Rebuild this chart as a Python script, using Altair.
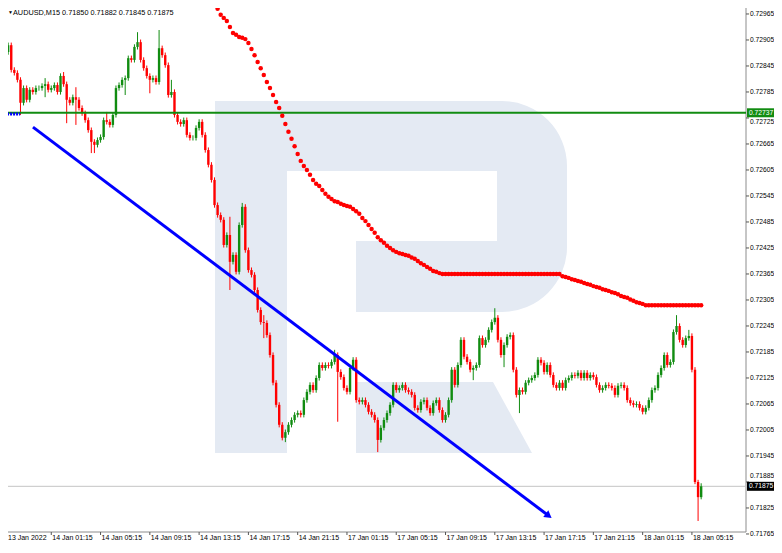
import base64
import altair as alt
import pandas as pd

# ---------------- data ----------------
opens = [
    0.72905, 0.72882, 0.72877, 0.72893, 0.72836, 0.72829, 0.72813, 0.72760, 0.72794, 0.72767,
    0.72790, 0.72785, 0.72794, 0.72794, 0.72799, 0.72803, 0.72790, 0.72794, 0.72801, 0.72785,
    0.72822, 0.72803, 0.72767, 0.72760, 0.72773, 0.72767, 0.72748, 0.72736, 0.72720, 0.72697,
    0.72670, 0.72663, 0.72674, 0.72681, 0.72720, 0.72716, 0.72709, 0.72732, 0.72794, 0.72801,
    0.72813, 0.72817, 0.72863, 0.72859, 0.72889, 0.72900, 0.72859, 0.72840, 0.72822, 0.72813,
    0.72817, 0.72808, 0.72886, 0.72870, 0.72847, 0.72778, 0.72785, 0.72732, 0.72716, 0.72711,
    0.72720, 0.72686, 0.72679, 0.72679, 0.72702, 0.72716, 0.72686, 0.72651, 0.72617, 0.72582,
    0.72524, 0.72501, 0.72490, 0.72432, 0.72455, 0.72393, 0.72409, 0.72370, 0.72478, 0.72520,
    0.72420, 0.72374, 0.72363, 0.72328, 0.72282, 0.72254, 0.72252, 0.72224, 0.72178, 0.72114,
    0.72063, 0.72017, 0.71987, 0.72000, 0.72017, 0.72028, 0.72040, 0.72044, 0.72040, 0.72074,
    0.72093, 0.72109, 0.72097, 0.72125, 0.72155, 0.72148, 0.72155, 0.72153, 0.72162, 0.72178,
    0.72139, 0.72127, 0.72102, 0.72093, 0.72148, 0.72167, 0.72074, 0.72070, 0.72074, 0.72063,
    0.72047, 0.72040, 0.72028, 0.71982, 0.72010, 0.72028, 0.72044, 0.72063, 0.72109, 0.72097,
    0.72102, 0.72109, 0.72097, 0.72093, 0.72086, 0.72056, 0.72051, 0.72070, 0.72074, 0.72056,
    0.72044, 0.72067, 0.72074, 0.72051, 0.72028, 0.72040, 0.72074, 0.72144, 0.72109, 0.72155,
    0.72213, 0.72174, 0.72162, 0.72144, 0.72148, 0.72155, 0.72217, 0.72201, 0.72213, 0.72236,
    0.72254, 0.72264, 0.72213, 0.72178, 0.72201, 0.72220, 0.72224, 0.72144, 0.72086, 0.72097,
    0.72093, 0.72114, 0.72120, 0.72125, 0.72132, 0.72167, 0.72160, 0.72139, 0.72155, 0.72132,
    0.72109, 0.72102, 0.72114, 0.72102, 0.72120, 0.72125, 0.72132, 0.72130, 0.72137, 0.72125,
    0.72137, 0.72125, 0.72132, 0.72127, 0.72109, 0.72097, 0.72102, 0.72109, 0.72107, 0.72102,
    0.72086, 0.72107, 0.72109, 0.72102, 0.72074, 0.72067, 0.72063, 0.72065, 0.72056, 0.72047,
    0.72056, 0.72074, 0.72097, 0.72102, 0.72132, 0.72148, 0.72178, 0.72155, 0.72162, 0.72231,
    0.72245, 0.72213, 0.72201, 0.72217, 0.72222, 0.72144, 0.71885, 0.71850,
]
highs = [
    0.72907, 0.72888, 0.72899, 0.72899, 0.72842, 0.72835, 0.72819, 0.72800, 0.72800, 0.72796,
    0.72796, 0.72800, 0.72800, 0.72805, 0.72817, 0.72809, 0.72800, 0.72807, 0.72807, 0.72828,
    0.72831, 0.72809, 0.72773, 0.72779, 0.72796, 0.72773, 0.72754, 0.72742, 0.72726, 0.72703,
    0.72676, 0.72680, 0.72687, 0.72726, 0.72739, 0.72722, 0.72738, 0.72800, 0.72807, 0.72819,
    0.72823, 0.72869, 0.72869, 0.72895, 0.72923, 0.72906, 0.72865, 0.72846, 0.72828, 0.72823,
    0.72823, 0.72928, 0.72892, 0.72876, 0.72853, 0.72813, 0.72791, 0.72738, 0.72722, 0.72726,
    0.72726, 0.72692, 0.72685, 0.72708, 0.72722, 0.72722, 0.72692, 0.72657, 0.72623, 0.72588,
    0.72530, 0.72507, 0.72496, 0.72461, 0.72497, 0.72415, 0.72415, 0.72484, 0.72529, 0.72526,
    0.72426, 0.72380, 0.72369, 0.72334, 0.72288, 0.72270, 0.72258, 0.72230, 0.72184, 0.72120,
    0.72069, 0.72023, 0.72006, 0.72023, 0.72034, 0.72046, 0.72050, 0.72050, 0.72080, 0.72099,
    0.72115, 0.72115, 0.72131, 0.72161, 0.72161, 0.72161, 0.72161, 0.72168, 0.72190, 0.72184,
    0.72145, 0.72133, 0.72108, 0.72154, 0.72173, 0.72173, 0.72080, 0.72080, 0.72080, 0.72069,
    0.72053, 0.72046, 0.72034, 0.72016, 0.72034, 0.72050, 0.72069, 0.72115, 0.72115, 0.72108,
    0.72115, 0.72115, 0.72103, 0.72099, 0.72092, 0.72062, 0.72076, 0.72080, 0.72080, 0.72062,
    0.72073, 0.72080, 0.72080, 0.72057, 0.72046, 0.72080, 0.72150, 0.72150, 0.72161, 0.72219,
    0.72219, 0.72180, 0.72168, 0.72154, 0.72161, 0.72223, 0.72223, 0.72219, 0.72242, 0.72260,
    0.72286, 0.72270, 0.72219, 0.72207, 0.72226, 0.72230, 0.72230, 0.72150, 0.72103, 0.72103,
    0.72120, 0.72126, 0.72131, 0.72138, 0.72173, 0.72173, 0.72166, 0.72161, 0.72161, 0.72138,
    0.72115, 0.72120, 0.72120, 0.72126, 0.72131, 0.72138, 0.72138, 0.72143, 0.72143, 0.72143,
    0.72143, 0.72138, 0.72138, 0.72133, 0.72115, 0.72108, 0.72115, 0.72115, 0.72113, 0.72108,
    0.72113, 0.72115, 0.72115, 0.72108, 0.72080, 0.72073, 0.72071, 0.72071, 0.72062, 0.72062,
    0.72080, 0.72103, 0.72108, 0.72138, 0.72154, 0.72184, 0.72184, 0.72168, 0.72237, 0.72270,
    0.72251, 0.72219, 0.72223, 0.72236, 0.72228, 0.72150, 0.71890, 0.71882,
]
lows = [
    0.72877, 0.72859, 0.72871, 0.72830, 0.72823, 0.72807, 0.72732, 0.72754, 0.72761, 0.72761,
    0.72779, 0.72779, 0.72788, 0.72788, 0.72773, 0.72784, 0.72784, 0.72788, 0.72779, 0.72779,
    0.72797, 0.72713, 0.72754, 0.72754, 0.72709, 0.72742, 0.72730, 0.72714, 0.72691, 0.72644,
    0.72644, 0.72657, 0.72668, 0.72675, 0.72710, 0.72703, 0.72703, 0.72726, 0.72788, 0.72795,
    0.72778, 0.72811, 0.72853, 0.72853, 0.72883, 0.72853, 0.72834, 0.72816, 0.72782, 0.72807,
    0.72802, 0.72802, 0.72864, 0.72841, 0.72772, 0.72772, 0.72726, 0.72710, 0.72705, 0.72705,
    0.72680, 0.72673, 0.72673, 0.72673, 0.72696, 0.72680, 0.72645, 0.72611, 0.72576, 0.72518,
    0.72495, 0.72484, 0.72426, 0.72426, 0.72328, 0.72387, 0.72364, 0.72364, 0.72472, 0.72414,
    0.72368, 0.72357, 0.72322, 0.72276, 0.72248, 0.72217, 0.72218, 0.72172, 0.72108, 0.72057,
    0.72011, 0.71981, 0.71977, 0.71994, 0.72011, 0.72022, 0.72034, 0.72034, 0.72034, 0.72068,
    0.72087, 0.72091, 0.72091, 0.72119, 0.72142, 0.72142, 0.72147, 0.72147, 0.72156, 0.72024,
    0.72121, 0.72096, 0.72087, 0.72087, 0.72142, 0.72068, 0.72064, 0.72064, 0.72057, 0.72041,
    0.72034, 0.72022, 0.71954, 0.71976, 0.72004, 0.72022, 0.72038, 0.72057, 0.72091, 0.72091,
    0.72096, 0.72091, 0.72087, 0.72080, 0.72050, 0.72045, 0.72045, 0.72064, 0.72050, 0.72038,
    0.72038, 0.72061, 0.72045, 0.72022, 0.72022, 0.72034, 0.72068, 0.72103, 0.72103, 0.72149,
    0.72168, 0.72156, 0.72138, 0.72120, 0.72142, 0.72149, 0.72195, 0.72195, 0.72207, 0.72230,
    0.72248, 0.72207, 0.72172, 0.72150, 0.72195, 0.72214, 0.72138, 0.72080, 0.72044, 0.72087,
    0.72087, 0.72108, 0.72114, 0.72119, 0.72126, 0.72154, 0.72133, 0.72133, 0.72126, 0.72103,
    0.72096, 0.72096, 0.72096, 0.72096, 0.72114, 0.72119, 0.72124, 0.72124, 0.72119, 0.72119,
    0.72119, 0.72119, 0.72121, 0.72103, 0.72091, 0.72091, 0.72096, 0.72101, 0.72096, 0.72080,
    0.72080, 0.72101, 0.72096, 0.72068, 0.72061, 0.72057, 0.72057, 0.72050, 0.72041, 0.72041,
    0.72050, 0.72068, 0.72091, 0.72096, 0.72126, 0.72142, 0.72149, 0.72149, 0.72156, 0.72225,
    0.72207, 0.72195, 0.72195, 0.72211, 0.72138, 0.71880, 0.71795, 0.71845,
]
closes = [
    0.72882, 0.72877, 0.72893, 0.72836, 0.72829, 0.72813, 0.72760, 0.72794, 0.72767, 0.72790,
    0.72785, 0.72794, 0.72794, 0.72799, 0.72803, 0.72790, 0.72794, 0.72801, 0.72785, 0.72822,
    0.72803, 0.72767, 0.72760, 0.72773, 0.72767, 0.72748, 0.72736, 0.72720, 0.72697, 0.72670,
    0.72663, 0.72674, 0.72681, 0.72720, 0.72716, 0.72709, 0.72732, 0.72794, 0.72801, 0.72813,
    0.72817, 0.72863, 0.72859, 0.72889, 0.72900, 0.72859, 0.72840, 0.72822, 0.72813, 0.72817,
    0.72808, 0.72886, 0.72870, 0.72847, 0.72778, 0.72785, 0.72732, 0.72716, 0.72711, 0.72720,
    0.72686, 0.72679, 0.72679, 0.72702, 0.72716, 0.72686, 0.72651, 0.72617, 0.72582, 0.72524,
    0.72501, 0.72490, 0.72432, 0.72455, 0.72393, 0.72409, 0.72370, 0.72478, 0.72520, 0.72420,
    0.72374, 0.72363, 0.72328, 0.72282, 0.72254, 0.72252, 0.72224, 0.72178, 0.72114, 0.72063,
    0.72017, 0.71987, 0.72000, 0.72017, 0.72028, 0.72040, 0.72044, 0.72040, 0.72074, 0.72093,
    0.72109, 0.72097, 0.72125, 0.72155, 0.72148, 0.72155, 0.72153, 0.72162, 0.72178, 0.72139,
    0.72127, 0.72102, 0.72093, 0.72148, 0.72167, 0.72074, 0.72070, 0.72074, 0.72063, 0.72047,
    0.72040, 0.72028, 0.71982, 0.72010, 0.72028, 0.72044, 0.72063, 0.72109, 0.72097, 0.72102,
    0.72109, 0.72097, 0.72093, 0.72086, 0.72056, 0.72051, 0.72070, 0.72074, 0.72056, 0.72044,
    0.72067, 0.72074, 0.72051, 0.72028, 0.72040, 0.72074, 0.72144, 0.72109, 0.72155, 0.72213,
    0.72174, 0.72162, 0.72144, 0.72148, 0.72155, 0.72217, 0.72201, 0.72213, 0.72236, 0.72254,
    0.72264, 0.72213, 0.72178, 0.72201, 0.72220, 0.72224, 0.72144, 0.72086, 0.72097, 0.72093,
    0.72114, 0.72120, 0.72125, 0.72132, 0.72167, 0.72160, 0.72139, 0.72155, 0.72132, 0.72109,
    0.72102, 0.72114, 0.72102, 0.72120, 0.72125, 0.72132, 0.72130, 0.72137, 0.72125, 0.72137,
    0.72125, 0.72132, 0.72127, 0.72109, 0.72097, 0.72102, 0.72109, 0.72107, 0.72102, 0.72086,
    0.72107, 0.72109, 0.72102, 0.72074, 0.72067, 0.72063, 0.72065, 0.72056, 0.72047, 0.72056,
    0.72074, 0.72097, 0.72102, 0.72132, 0.72148, 0.72178, 0.72155, 0.72162, 0.72231, 0.72245,
    0.72213, 0.72201, 0.72217, 0.72222, 0.72144, 0.71885, 0.71850, 0.71875,
]

# red dotted moving average, visible from bar 68 onwards
ma_first_bar = 68
ma_values = [
    0.72993, 0.72986, 0.72977, 0.72963, 0.72956, 0.72949, 0.72935, 0.72921, 0.72917, 0.72912,
    0.72910, 0.72907, 0.72898, 0.72884, 0.72870, 0.72854, 0.72840, 0.72824, 0.72808, 0.72794,
    0.72778, 0.72762, 0.72748, 0.72730, 0.72711, 0.72693, 0.72677, 0.72660, 0.72642, 0.72626,
    0.72614, 0.72605, 0.72594, 0.72582, 0.72573, 0.72568, 0.72559, 0.72550, 0.72543, 0.72538,
    0.72533, 0.72531, 0.72527, 0.72524, 0.72522, 0.72520, 0.72515, 0.72510, 0.72504, 0.72494,
    0.72487, 0.72478, 0.72469, 0.72460, 0.72450, 0.72443, 0.72437, 0.72430, 0.72425, 0.72420,
    0.72416, 0.72413, 0.72411, 0.72409, 0.72407, 0.72403, 0.72400, 0.72395, 0.72390, 0.72386,
    0.72381, 0.72377, 0.72372, 0.72370, 0.72367, 0.72365, 0.72365, 0.72365, 0.72365, 0.72365,
    0.72365, 0.72365, 0.72365, 0.72365, 0.72365, 0.72365, 0.72365, 0.72365, 0.72365, 0.72365,
    0.72365, 0.72365, 0.72365, 0.72365, 0.72365, 0.72365, 0.72365, 0.72365, 0.72365, 0.72365,
    0.72365, 0.72365, 0.72365, 0.72365, 0.72365, 0.72365, 0.72365, 0.72365, 0.72365, 0.72365,
    0.72365, 0.72365, 0.72365, 0.72365, 0.72360, 0.72358, 0.72356, 0.72353, 0.72351, 0.72349,
    0.72347, 0.72344, 0.72342, 0.72340, 0.72337, 0.72335, 0.72333, 0.72330, 0.72328, 0.72326,
    0.72323, 0.72321, 0.72318, 0.72314, 0.72312, 0.72310, 0.72306, 0.72303, 0.72300, 0.72298,
    0.72296, 0.72293, 0.72293, 0.72293, 0.72293, 0.72293, 0.72293, 0.72293, 0.72293, 0.72293,
    0.72293, 0.72293, 0.72293, 0.72293, 0.72293, 0.72293, 0.72293, 0.72293, 0.72293, 0.72293,
]

x_tick_labels = [
    "13 Jan 2022", "14 Jan 01:15", "14 Jan 05:15", "14 Jan 09:15", "14 Jan 13:15",
    "14 Jan 17:15", "14 Jan 21:15", "17 Jan 01:15", "17 Jan 05:15", "17 Jan 09:15",
    "17 Jan 13:15", "17 Jan 17:15", "17 Jan 21:15", "18 Jan 01:15", "18 Jan 05:15",
]
bars_per_label = 16
y_tick_values = [
    0.71765, 0.71825, 0.71885, 0.71945, 0.72005, 0.72065, 0.72125, 0.72185, 0.72245,
    0.72305, 0.72365, 0.72425, 0.72485, 0.72545, 0.72605, 0.72665, 0.72725, 0.72785,
    0.72845, 0.72905, 0.72965,
]

level_price = [0.72737]          # green horizontal level
last_price = [0.71875]           # current bid line
trend_bar = [10.06, 177.5]       # blue trend line
trend_price = [0.72704, 0.71807]
marker_bar = [-0.3, 5.9]         # small blue dashed marker at the left
marker_price = [0.72734]
symbol_text = "AUDUSD,M15 0.71850 0.71882 0.71845 0.71875"

# ---------------- styling / layout (pixels) ----------------
FONT = "Liberation Sans"
GREEN = "#118c11"
RED = "#ff0000"
FRAME = "#8c8c8c"
W, H = 766, 533                  # whole drawing area
FRAME_R, FRAME_B = 738, 524      # right and bottom border of the price pane
X_DOMAIN = [1.948, 250.649]      # bar index at the left / right edge
Y_DOMAIN = [0.717488, 0.729788]  # price at the bottom / top edge

candles = pd.DataFrame({
    "bar": list(range(len(closes))),
    "open": opens, "high": highs, "low": lows, "close": closes,
})
ma_df = pd.DataFrame({
    "bar": list(range(ma_first_bar, ma_first_bar + len(ma_values))),
    "ma": ma_values,
})
trend_df = pd.DataFrame({"bar": trend_bar, "price": trend_price})
arrow_df = trend_df.tail(1)
marker_df = pd.DataFrame({"bar": [marker_bar[0]], "bar2": [marker_bar[1]], "price": marker_price})
level_df = pd.DataFrame({"price": level_price, "label": [f"{v:.5f}" for v in level_price]})
last_df = pd.DataFrame({"price": last_price, "label": [f"{v:.5f}" for v in last_price]})
yt_df = pd.DataFrame({"price": y_tick_values, "label": [f"{v:.5f}" for v in y_tick_values]})
xt_df = pd.DataFrame({
    "bar": [i * bars_per_label for i in range(len(x_tick_labels))],
    "label": x_tick_labels,
})

# tick labels that sit under a price box peek out just above / below it
near_level = yt_df["price"].apply(lambda p: abs(p - level_price[0]) < 0.00015)
near_last = yt_df["price"].apply(lambda p: abs(p - last_price[0]) < 0.00015)
yt_plain = yt_df[~near_level & ~near_last]
yt_below_level = yt_df[near_level]
yt_above_last = yt_df[near_last]

xscale = alt.Scale(domain=X_DOMAIN, nice=False, zero=False, padding=0)
yscale = alt.Scale(domain=Y_DOMAIN, nice=False, zero=False, padding=0)


def X(field):
    return alt.X(field, scale=xscale, axis=None)


def Y(field):
    return alt.Y(field, scale=yscale, axis=None)


color_cond = alt.condition("datum.close >= datum.open", alt.value(GREEN), alt.value(RED))

# watermark logo (an image)
logo_svg = (
    "<svg xmlns='http://www.w3.org/2000/svg' width='352' height='352' viewBox='0 0 352 352'>"
    "<g fill='#e4eaf3'>"
    "<rect x='0' y='0' width='72' height='352'/>"
    "<path d='M71 0 H287 A65 65 0 0 1 352 65 V146 A65 65 0 0 1 287 211 H141 V140 H282 V70 H71 Z'/>"
    "<path d='M141 281 H278 L317 352 H141 Z'/>"
    "</g></svg>"
)
logo_url = "data:image/svg+xml;base64," + base64.b64encode(logo_svg.encode()).decode()
watermark = alt.Chart(pd.DataFrame({"url": [logo_url]})).mark_image(
    width=352, height=352, align="left", baseline="top", aspect=False
).encode(url="url:N", x=alt.value(207), y=alt.value(93))

# pane frame (right and bottom borders)
frame_right = alt.Chart(pd.DataFrame({"k": [0]})).mark_rule(color=FRAME, strokeWidth=1).encode(
    x=alt.value(FRAME_R), y=alt.value(0), y2=alt.value(FRAME_B)
)
frame_bottom = alt.Chart(pd.DataFrame({"k": [0]})).mark_rule(color=FRAME, strokeWidth=1).encode(
    x=alt.value(0), x2=alt.value(FRAME_R), y=alt.value(FRAME_B)
)

# price scale (right)
y_ticks = alt.Chart(yt_df).mark_rule(color="#555555", strokeWidth=1).encode(
    x=alt.value(FRAME_R), x2=alt.value(FRAME_R + 3), y=Y("price:Q")
)


def y_label_layer(df, dy):
    return alt.Chart(df).mark_text(
        align="left", baseline="middle", color="#000000", font=FONT, fontSize=6.7, dy=dy
    ).encode(x=alt.value(FRAME_R + 4), y=Y("price:Q"), text="label:N")


y_labels = y_label_layer(yt_plain, 0)
y_label_low = y_label_layer(yt_below_level, 4)
y_label_high = y_label_layer(yt_above_last, -6)

# time scale (bottom)
x_ticks = alt.Chart(xt_df).mark_rule(color="#555555", strokeWidth=1, clip=True).encode(
    x=X("bar:Q"), y=alt.value(FRAME_B), y2=alt.value(FRAME_B + 3)
)
x_labels = alt.Chart(xt_df.iloc[1:]).mark_text(
    align="left", baseline="top", color="#000000", font=FONT, fontSize=7, dx=1
).encode(x=X("bar:Q"), y=alt.value(FRAME_B + 2), text="label:N")
x_first_label = alt.Chart(xt_df.iloc[:1]).mark_text(
    align="left", baseline="top", color="#000000", font=FONT, fontSize=7
).encode(x=alt.value(0), y=alt.value(FRAME_B + 2), text="label:N")

last_line = alt.Chart(last_df).mark_rule(color="#c4c4c4", strokeWidth=1).encode(
    x=alt.value(0), x2=alt.value(FRAME_R), y=Y("price:Q")
)
wicks = alt.Chart(candles).mark_rule(strokeWidth=1, clip=True).encode(
    x=X("bar:Q"), y=Y("low:Q"), y2="high:Q", color=color_cond
)
bodies = alt.Chart(candles).mark_bar(width=2.4, clip=True).encode(
    x=X("bar:Q"), y=Y("open:Q"), y2="close:Q", color=color_cond
)
level_line = alt.Chart(level_df).mark_rule(color=GREEN, strokeWidth=2).encode(
    x=alt.value(0), x2=alt.value(FRAME_R), y=Y("price:Q")
)
ma_dots = alt.Chart(ma_df).mark_circle(size=20, color=RED, opacity=1, clip=True).encode(
    x=X("bar:Q"), y=Y("ma:Q")
)
trend = alt.Chart(trend_df).mark_line(color="#0000ff", strokeWidth=3, clip=True).encode(
    x=X("bar:Q"), y=Y("price:Q")
)
arrow = alt.Chart(arrow_df).mark_point(
    shape="triangle-right", angle=37, size=70, filled=True, color="#0000ff", opacity=1
).encode(x=X("bar:Q"), y=Y("price:Q"))
marker = alt.Chart(marker_df).mark_rule(
    color="#0000ff", strokeWidth=3, strokeDash=[2, 1], clip=True
).encode(x=X("bar:Q"), x2="bar2:Q", y=Y("price:Q"))

level_box = alt.Chart(level_df).mark_tick(
    orient="horizontal", size=27, thickness=9, color=GREEN, opacity=1
).encode(x=alt.value(FRAME_R + 14.5), y=Y("price:Q"))
level_text = alt.Chart(level_df).mark_text(
    align="left", baseline="middle", color="white", font=FONT, fontSize=6.7
).encode(x=alt.value(FRAME_R + 3), y=Y("price:Q"), text="label:N")
last_box = alt.Chart(last_df).mark_tick(
    orient="horizontal", size=27, thickness=9, color="#000000", opacity=1
).encode(x=alt.value(FRAME_R + 14.5), y=Y("price:Q"))
last_text = alt.Chart(last_df).mark_text(
    align="left", baseline="middle", color="white", font=FONT, fontSize=6.7
).encode(x=alt.value(FRAME_R + 3), y=Y("price:Q"), text="label:N")

header_arrow = alt.Chart(pd.DataFrame({"t": ["\u25bc"]})).mark_text(
    align="left", baseline="top", color="#000000", fontSize=5
).encode(x=alt.value(0), y=alt.value(1.5), text="t:N")
header = alt.Chart(pd.DataFrame({"t": [symbol_text]})).mark_text(
    align="left", baseline="top", color="#000000", font=FONT, fontSize=7.3
).encode(x=alt.value(5), y=alt.value(0.5), text="t:N")

chart = alt.layer(
    watermark, frame_right, frame_bottom, y_ticks, y_labels, y_label_low, y_label_high,
    x_ticks, x_labels, x_first_label,
    last_line, wicks, bodies, level_line, ma_dots, trend, arrow, marker,
    level_box, level_text, last_box, last_text, header_arrow, header,
).properties(
    width=W, height=H, background="white",
    autosize=alt.AutoSizeParams(type="none"), padding=0,
).configure_view(stroke=None)

chart.save("out.html", embed_options={"renderer": "svg", "actions": False})
